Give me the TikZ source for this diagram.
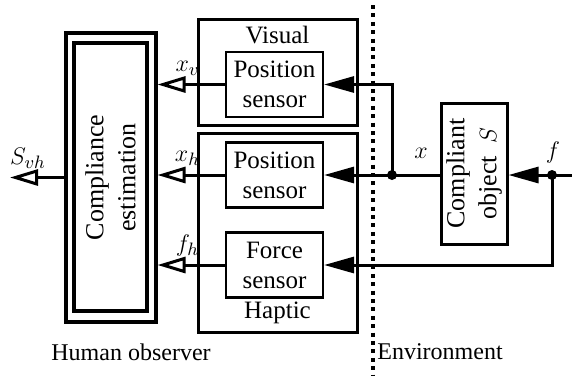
\documentclass[tikz,border=0pt]{standalone}
\usepackage{amsmath}
\usepackage{fontspec}
\setmainfont{Liberation Serif}
\usetikzlibrary{arrows.meta}

\begin{document}
\begin{tikzpicture}[x=0.5pt, y=-0.5pt,
	font=\rmfamily\fontsize{12.5}{15}\selectfont,
	group/.style={draw, line width=1.5pt, inner sep=0pt},
	sensor/.style={draw, line width=1.1pt, minimum width=48.5pt, minimum height=32.5pt, align=center, inner sep=0pt},
	outarrow/.style={line width=1.5pt, -{Triangle[open, length=14pt, width=8pt]}},
	inarrow/.style={line width=1.5pt, -{Triangle[length=15pt, width=8pt]}},
	junction/.style={circle, fill, inner sep=0pt, minimum size=5pt}]
\useasboundingbox (0,0) rectangle (572,377);

% estimation block
\node[draw, line width=2pt, minimum width=45pt, minimum height=144.5pt] (est) at (110.5,177.5) {};
\node[draw, line width=2pt, minimum width=36.5pt, minimum height=134pt] (estin) at (110.5,177) {};
\node[rotate=90, align=center, font=\rmfamily\fontsize{13}{16}\selectfont] (esttext) at (est) {Compliance\\estimation};

% sensor groups
\node[group, minimum width=79.5pt, minimum height=53pt] (visual) at (277.5,72) {};
\node[group, minimum width=79.5pt, minimum height=99.5pt] (haptic) at (277.5,232.5) {};
\node (vistitle) at (277.5,35) {Visual};
\node (haptitle) at (277.5,313) {Haptic};

\node[sensor] (vispos) at (274.5,84.5) {Position\\sensor};
\node[sensor] (happos) at (274.5,175) {Position\\sensor};
\node[sensor] (force) at (274.5,265) {Force\\sensor};

% environment
\node[draw, line width=1.5pt, minimum width=33pt, minimum height=70.5pt] (obj) at (474,173.5) {};
\node[rotate=90, align=center, font=\rmfamily\fontsize{13}{16}\selectfont] (objtext) at (obj) {Compliant\\object \ $S$};

\draw[line width=2pt, dash pattern=on 2pt off 2.2pt] (373,5) -- (373,375);

% outputs of the sensors
\foreach \s/\l in {vispos/x_v, happos/x_h, force/f_h} {
	\draw[outarrow] (\s.west) -- (\s.west -| est.east);
	\node[above, xshift=15pt, yshift=1pt] at (\s.west -| est.east) {$\l$};
}
\coordinate (svh) at (10,177.5);
\draw[outarrow] (est.west) -- (svh);
\node (svhlabel) at (28,158) {$S_{vh}$};

% inputs of the sensors
\node[junction] (xj) at (392,175) {};
\node[junction] (fj) at (552,175) {};
\coordinate (fin) at (572,175);
\draw[inarrow] (obj.west |- happos.east) -- (happos.east);
\draw[inarrow] (xj.center) -- (xj |- vispos) -- (vispos.east);
\draw[inarrow] (fin) -- (obj.east |- fin);
\draw[inarrow] (fj.center) -- (fj |- force) -- (force.east);
\node (xlabel) at (421,153) {$x$};
\node (flabel) at (553,152) {$f$};

\node[font=\rmfamily\fontsize{12}{14}\selectfont] (human) at (131,352) {Human observer};
\node[font=\rmfamily\fontsize{12}{14}\selectfont] (env) at (440,352) {Environment};

\end{tikzpicture}
\end{document}
